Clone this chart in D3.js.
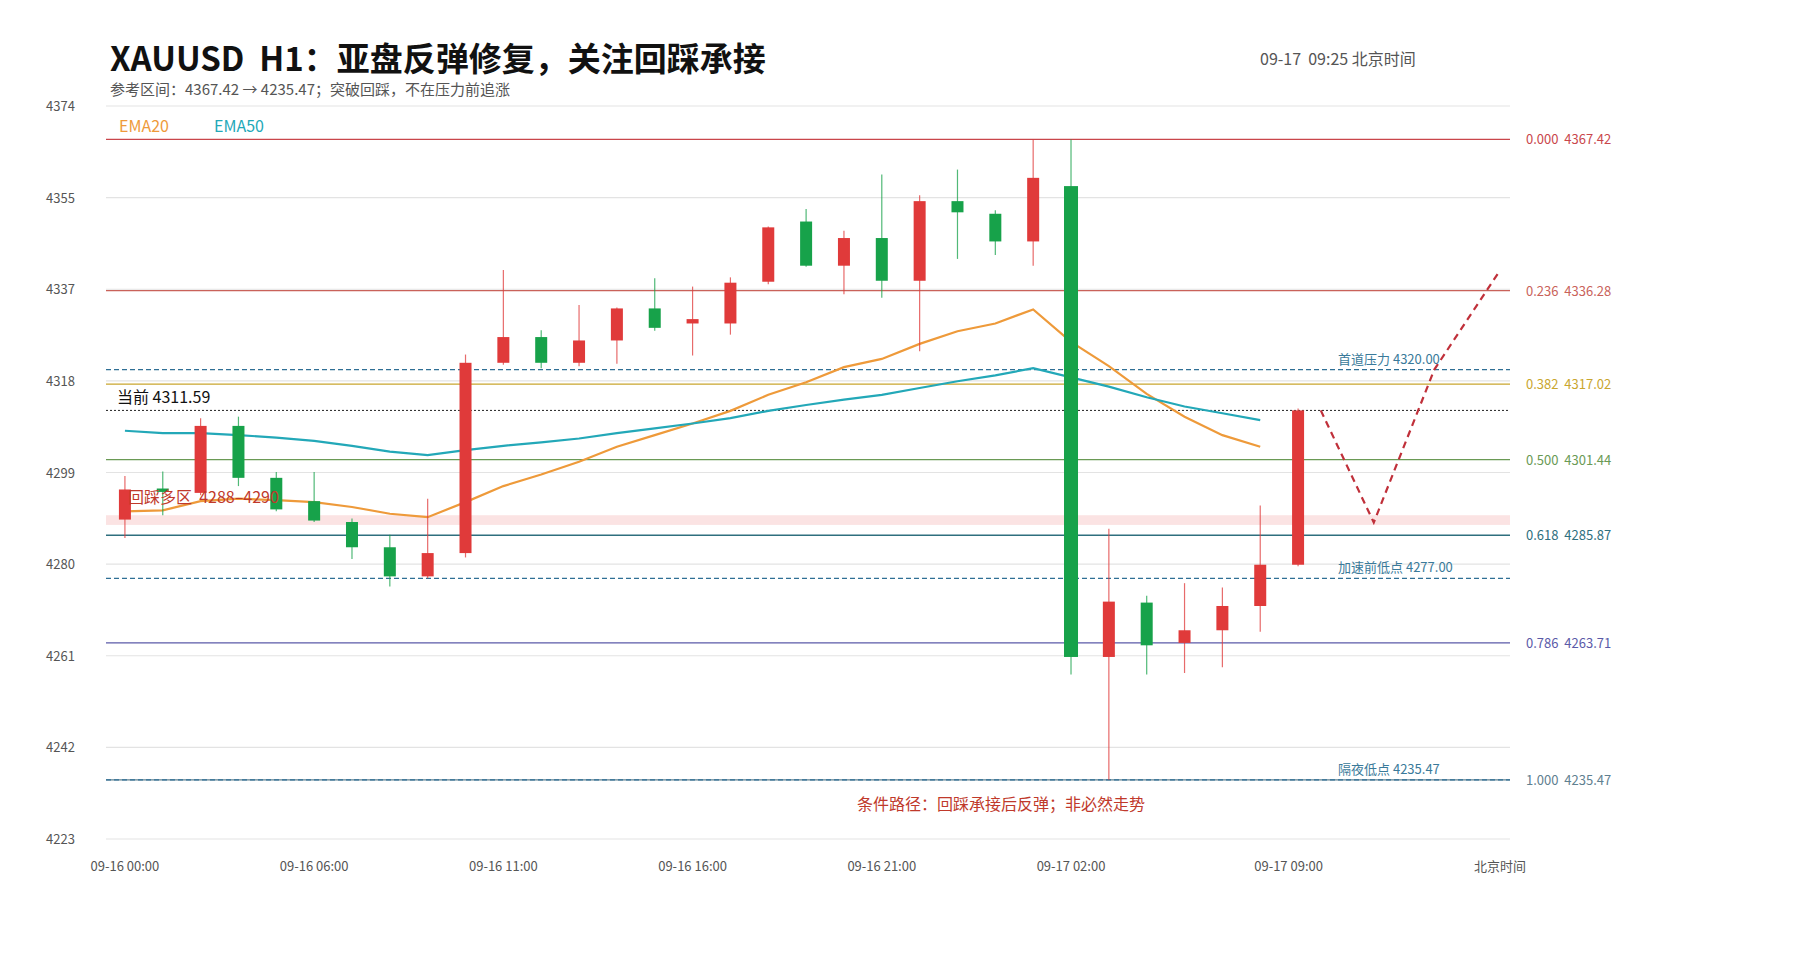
<!DOCTYPE html>
<html>
<head>
<meta charset="utf-8">
<script src="https://cdn.jsdelivr.net/npm/d3@7"></script>
<style>
  body { margin: 0; background: #fff; }
  text { font-family: "Noto Sans CJK SC", "Noto Sans", sans-serif; }
</style>
</head>
<body>
<svg id="chart" width="1800" height="960"></svg>
<script>
// candles: open, high, low, close (red = up, green = down)
const opens  = [4289.1,4295.5,4294.6,4308.4,4297.7,4292.9,4288.6,4283.4,4277.4,4282.2,4321.4,4326.7,4321.4,4326.0,4332.6,4329.5,4329.5,4338.1,4350.5,4341.4,4347.1,4338.3,4354.7,4352.1,4346.4,4357.8,4260.8,4272.0,4263.7,4266.3,4271.3,4279.8];
const highs  = [4298.1,4299.0,4310.0,4310.3,4298.9,4298.9,4289.3,4286.0,4293.4,4323.1,4340.5,4328.1,4333.3,4332.8,4338.8,4337.1,4339.0,4349.5,4353.1,4348.6,4360.2,4355.9,4361.2,4352.8,4367.4,4367.4,4287.2,4273.4,4276.0,4275.1,4292.0,4312.0];
const lows   = [4285.3,4290.0,4294.1,4296.0,4290.8,4288.6,4281.0,4275.3,4277.0,4281.3,4321.0,4320.3,4320.7,4321.2,4328.0,4322.9,4327.2,4337.6,4341.2,4335.5,4334.8,4323.8,4342.8,4343.6,4341.4,4257.2,4235.5,4257.2,4257.5,4258.7,4266.0,4279.5];
const closes = [4295.3,4294.8,4308.4,4297.7,4291.2,4288.9,4283.4,4277.4,4282.2,4321.4,4326.7,4321.4,4326.0,4332.6,4328.6,4330.4,4337.9,4349.3,4341.4,4347.1,4338.3,4354.7,4352.4,4346.4,4359.5,4260.8,4272.2,4263.2,4266.3,4271.3,4279.8,4311.59];
const ema20 = [4290.8,4291.0,4292.9,4293.4,4293.1,4292.7,4291.7,4290.3,4289.6,4292.7,4296.0,4298.4,4301.0,4304.1,4306.5,4308.9,4311.5,4314.8,4317.4,4320.5,4322.2,4325.3,4327.9,4329.5,4332.4,4325.7,4320.7,4315.0,4310.3,4306.5,4304.1];
const ema50 = [4307.4,4306.9,4306.9,4306.5,4306.0,4305.3,4304.3,4303.1,4302.4,4303.4,4304.3,4305.0,4305.8,4306.9,4307.9,4308.9,4310.0,4311.5,4312.7,4313.8,4314.8,4316.2,4317.6,4318.8,4320.3,4318.4,4316.5,4314.3,4312.4,4311.0,4309.6];
const xTickIdx = [0,5,10,15,20,25,30.75];
const xTickLabels = ["09-16 00:00","09-16 06:00","09-16 11:00","09-16 16:00","09-16 21:00","09-17 02:00","09-17 09:00"];
const fibRatios = ["0.000","0.236","0.382","0.500","0.618","0.786","1.000"];
const fibPrices = [4367.42,4336.28,4317.02,4301.44,4285.87,4263.71,4235.47];
const fibColors = ["#c9464b","#c9625a","#c9a62e","#6a9a55","#2e6f7e","#5b5aa8","#5f8090"];
const keyNames  = ["首道压力","加速前低点","隔夜低点"];
const keyPrices = [4320.00,4277.00,4235.47];
const pathIdx   = [31.6,33.0,34.6,36.3];
const pathPrice = [4311.6,4288.5,4320.0,4340.0];
const currentPrice = 4311.59;
const zone = [4288,4290];

const svg = d3.select("#chart");
const L = 106, R = 1510, T = 106, B = 839;
const x = d3.scaleLinear().domain([-0.5, 36.6]).range([L, R]);
const y = d3.scaleLinear().domain([4223.3, 4374.3]).range([B, T]);
const up = "#e03a3a", down = "#17a24a";

// grid + y labels
const yTicks = d3.range(9).map(i => 4223.3 + i * 151 / 8);
svg.append("g").selectAll("line").data(yTicks).join("line")
  .attr("x1", L).attr("x2", R).attr("y1", d => y(d)).attr("y2", d => y(d))
  .attr("stroke", "#e3e3e3").attr("stroke-width", 1.2);
svg.append("g").selectAll("text").data(yTicks).join("text")
  .attr("x", 46).attr("y", d => y(d) + 5).text(d => Math.round(d))
  .attr("font-size", 13).attr("fill", "#555");

// pullback zone
svg.append("rect").attr("x", L).attr("width", R - L)
  .attr("y", y(zone[1])).attr("height", y(zone[0]) - y(zone[1]))
  .attr("fill", "#fbe3e3");

// fib lines
fibPrices.forEach((p, i) => {
  svg.append("line").attr("x1", L).attr("x2", R).attr("y1", y(p)).attr("y2", y(p))
    .attr("stroke", fibColors[i]).attr("stroke-width", 1.3);
  svg.append("text").attr("x", 1526).attr("y", y(p) + 5)
    .text(`${fibRatios[i]}  ${p.toFixed(2)}`).attr("font-size", 13).attr("fill", fibColors[i])
    .attr("xml:space", "preserve");
});

// key levels
keyPrices.forEach((p, i) => {
  svg.append("line").attr("x1", L).attr("x2", R).attr("y1", y(p)).attr("y2", y(p))
    .attr("stroke", "#2f6f95").attr("stroke-width", 1.3).attr("stroke-dasharray", "5,3");
  svg.append("text").attr("x", 1338).attr("y", y(p) - 6)
    .text(`${keyNames[i]} ${p.toFixed(2)}`).attr("font-size", 13).attr("fill", "#3a7a9a");
});

// current price
svg.append("line").attr("x1", L).attr("x2", R).attr("y1", y(currentPrice)).attr("y2", y(currentPrice))
  .attr("stroke", "#222").attr("stroke-width", 1).attr("stroke-dasharray", "2,2");
svg.append("text").attr("x", 117).attr("y", y(currentPrice) - 7)
  .text(`当前 ${currentPrice}`).attr("font-size", 16).attr("fill", "#111");

// EMA lines
const line = d3.line().x((d, i) => x(i)).y(d => y(d));
svg.append("path").datum(ema20).attr("d", line).attr("fill", "none")
  .attr("stroke", "#ee9a3a").attr("stroke-width", 2.2);
svg.append("path").datum(ema50).attr("d", line).attr("fill", "none")
  .attr("stroke", "#23a8b8").attr("stroke-width", 2.2);

// candles
const candles = opens.map((o, i) => ({ i, o, h: highs[i], l: lows[i], c: closes[i] }));
const g = svg.append("g").selectAll("g").data(candles).join("g");
g.append("line").attr("x1", d => x(d.i)).attr("x2", d => x(d.i))
  .attr("y1", d => y(d.h)).attr("y2", d => y(d.l))
  .attr("stroke", d => d.c >= d.o ? up : down).attr("stroke-width", 1.2).attr("opacity", 0.75);
g.append("rect").attr("x", d => x(d.i) - (d.i === 25 ? 7 : 6)).attr("width", d => d.i === 25 ? 14 : 12)
  .attr("y", d => y(Math.max(d.o, d.c)))
  .attr("height", d => Math.max(2, Math.abs(y(d.o) - y(d.c))))
  .attr("fill", d => d.c >= d.o ? up : down);

// zone label
svg.append("text").attr("x", 128).attr("y", y(4292.6)).text("回踩多区  4288–4290")
  .attr("xml:space", "preserve").attr("font-size", 16).attr("fill", "#c0392b");

// conditional path
const pathLine = d3.line().x((d, i) => x(pathIdx[i])).y(d => y(d));
svg.append("path").datum(pathPrice).attr("d", pathLine).attr("fill", "none")
  .attr("stroke", "#c0303a").attr("stroke-width", 2.2).attr("stroke-dasharray", "7,5");
svg.append("text").attr("x", 1001).attr("y", 810).attr("text-anchor", "middle")
  .text("条件路径：回踩承接后反弹；非必然走势").attr("font-size", 16).attr("fill", "#c0392b");

// x labels
svg.append("g").selectAll("text").data(xTickIdx).join("text")
  .attr("x", d => x(d)).attr("y", 871).attr("text-anchor", "middle")
  .text((d, i) => xTickLabels[i]).attr("font-size", 13).attr("fill", "#555");
svg.append("text").attr("x", 1500).attr("y", 871).attr("text-anchor", "middle")
  .text("北京时间").attr("font-size", 13).attr("fill", "#555");

// legend
svg.append("text").attr("x", 119).attr("y", 132).text("EMA20").attr("font-size", 16).attr("fill", "#ee9a3a");
svg.append("text").attr("x", 214).attr("y", 132).text("EMA50").attr("font-size", 16).attr("fill", "#23a8b8");

// titles
svg.append("text").attr("x", 110).attr("y", 71).text("XAUUSD  H1：亚盘反弹修复，关注回踩承接")
  .attr("xml:space", "preserve").attr("font-size", 33).attr("font-weight", "bold").attr("fill", "#111");
svg.append("text").attr("x", 110).attr("y", 95).text("参考区间：4367.42 → 4235.47；突破回踩，不在压力前追涨")
  .attr("font-size", 15).attr("fill", "#555");
svg.append("text").attr("x", 1260).attr("y", 65).text("09-17  09:25 北京时间")
  .attr("xml:space", "preserve").attr("font-size", 16).attr("fill", "#555");
</script>
</body>
</html>
